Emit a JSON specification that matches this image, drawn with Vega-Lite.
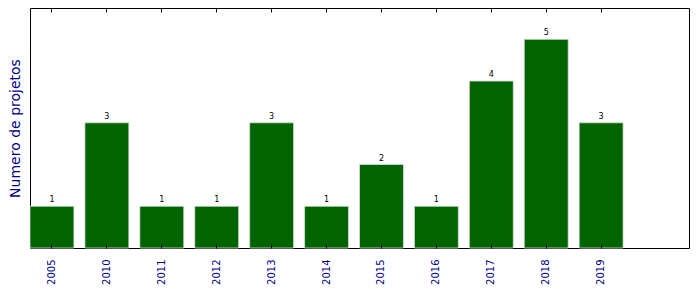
{
  "$schema": "https://vega.github.io/schema/vega-lite/v6.json",
  "width": 659,
  "height": 240,
  "autosize": {"type": "none"},
  "padding": {"left": 30, "top": 8, "right": 10, "bottom": 44},
  "config": {
    "view": {"stroke": "black", "strokeWidth": 1},
    "font": "DejaVu Sans"
  },
  "data": {
    "values": [
      {"ano": "2005", "n": 1},
      {"ano": "2010", "n": 3},
      {"ano": "2011", "n": 1},
      {"ano": "2012", "n": 1},
      {"ano": "2013", "n": 3},
      {"ano": "2014", "n": 1},
      {"ano": "2015", "n": 2},
      {"ano": "2016", "n": 1},
      {"ano": "2017", "n": 4},
      {"ano": "2018", "n": 5},
      {"ano": "2019", "n": 3}
    ]
  },
  "layer": [
    {
      "mark": {"type": "bar", "color": "#006400", "stroke": "#dddddd", "strokeWidth": 0.8},
      "encoding": {
        "x": {
          "field": "ano",
          "type": "nominal",
          "sort": null,
          "scale": {"paddingInner": 0.2, "paddingOuter": 0.6, "align": 0},
          "axis": {
            "orient": "bottom",
            "title": null,
            "domain": false,
            "offset": -4,
            "zindex": 1,
            "ticks": true,
            "tickSize": 4,
            "tickWidth": 1,
            "tickColor": "black",
            "labelAngle": -90,
            "labelAlign": "right",
            "labelBaseline": "middle",
            "labelPadding": 11,
            "labelColor": "#00008B",
            "labelFontSize": 10,
            "labelFont": "DejaVu Sans"
          }
        },
        "y": {
          "field": "n",
          "type": "quantitative",
          "scale": {"domain": [0, 5.75], "nice": false, "zero": true},
          "axis": {
            "title": "Numero de projetos",
            "titleColor": "#00008B",
            "titleFontSize": 14,
            "titleFontWeight": "normal",
            "titleFont": "DejaVu Sans",
            "titlePadding": 8,
            "labels": false,
            "ticks": false,
            "domain": false,
            "grid": false
          }
        }
      }
    },
    {
      "mark": {"type": "text", "baseline": "bottom", "dy": -2, "fontSize": 8, "color": "black", "font": "DejaVu Sans"},
      "encoding": {
        "text": {"field": "n", "type": "quantitative"},
        "x": {
          "field": "ano",
          "type": "nominal",
          "sort": null,
          "axis": {
            "orient": "top",
            "title": null,
            "domain": false,
            "labels": false,
            "offset": -4,
            "zindex": 1,
            "ticks": true,
            "tickSize": 4,
            "tickWidth": 1,
            "tickColor": "black"
          }
        },
        "y": {"field": "n", "type": "quantitative"}
      }
    }
  ],
  "resolve": {"axis": {"x": "independent"}}
}
